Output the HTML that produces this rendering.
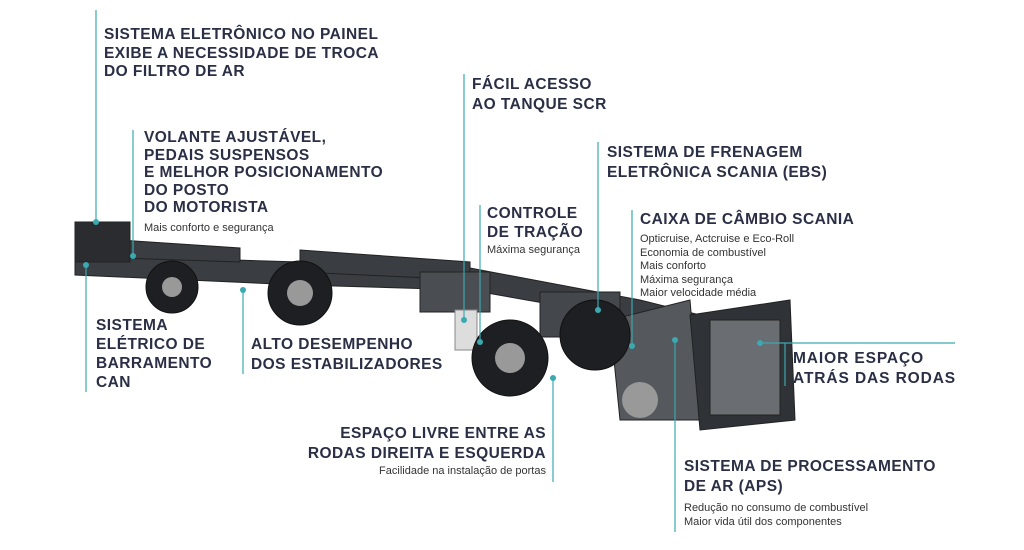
<!DOCTYPE html>
<html><head><meta charset="utf-8"><style>
body{margin:0;width:1024px;height:550px;background:#fff;position:relative;overflow:hidden;font-family:"Liberation Sans",sans-serif;color:#2a2f45}
.t{position:absolute;font-weight:bold;font-size:15.5px;line-height:18.5px;letter-spacing:0.45px;white-space:nowrap}
.s{position:absolute;font-size:11px;line-height:13.5px;white-space:nowrap;color:#333}
svg{position:absolute;left:0;top:0}
</style></head><body>
<svg width="1024" height="550">
<g fill="#3a3d42" stroke="#222" stroke-width="1">
<polygon points="75,255 300,262 470,268 640,300 760,330 760,345 640,320 470,290 300,285 75,275"/>
<polygon points="120,240 240,248 240,262 120,258"/>
<polygon points="300,250 470,262 470,280 300,272"/>
<rect x="75" y="222" width="55" height="40" fill="#2a2c30"/>
<rect x="420" y="272" width="70" height="40" fill="#4a4d52"/>
<rect x="540" y="292" width="80" height="45" fill="#44474c"/>
<polygon points="610,320 690,300 700,420 620,420" fill="#55585d"/>
<polygon points="690,315 790,300 795,420 700,430" fill="#2f3236"/>
<rect x="710" y="320" width="70" height="95" fill="#6a6d72"/>
<rect x="455" y="310" width="22" height="40" fill="#ddd" stroke="#888"/>
</g>
<g fill="#1e1f22" stroke="#111">
<circle cx="172" cy="287" r="26"/><circle cx="300" cy="293" r="32"/>
<circle cx="510" cy="358" r="38"/><circle cx="595" cy="335" r="35"/>
</g>
<g fill="#999"><circle cx="172" cy="287" r="10"/><circle cx="300" cy="293" r="13"/><circle cx="510" cy="358" r="15"/><circle cx="640" cy="400" r="18"/></g>
<g stroke="#3aa9b0" stroke-width="1.2" fill="none">
<line x1="96" y1="10" x2="96" y2="222"/>
<line x1="133" y1="130" x2="133" y2="256"/>
<line x1="464" y1="74" x2="464" y2="320"/>
<line x1="598" y1="142" x2="598" y2="310"/>
<line x1="480" y1="205" x2="480" y2="342"/>
<line x1="632" y1="210" x2="632" y2="346"/>
<line x1="86" y1="265" x2="86" y2="392"/>
<line x1="243" y1="290" x2="243" y2="374"/>
<line x1="760" y1="343" x2="955" y2="343"/>
<line x1="785" y1="343" x2="785" y2="386"/>
<line x1="553" y1="378" x2="553" y2="482"/>
<line x1="675" y1="340" x2="675" y2="532"/>
</g>
<g fill="#3aa9b0"><circle cx="96" cy="222" r="3"/><circle cx="133" cy="256" r="3"/><circle cx="464" cy="320" r="3"/><circle cx="598" cy="310" r="3"/><circle cx="480" cy="342" r="3"/><circle cx="632" cy="346" r="3"/><circle cx="86" cy="265" r="3"/><circle cx="243" cy="290" r="3"/><circle cx="760" cy="343" r="3"/><circle cx="553" cy="378" r="3"/><circle cx="675" cy="340" r="3"/></g>
</svg>
<div class="t" style="left:104px;top:26px">SISTEMA ELETRÔNICO NO PAINEL<br>EXIBE A NECESSIDADE DE TROCA<br>DO FILTRO DE AR</div>
<div class="t" style="left:144px;top:129px;line-height:17.5px">VOLANTE AJUSTÁVEL,<br>PEDAIS SUSPENSOS<br>E MELHOR POSICIONAMENTO<br>DO POSTO<br>DO MOTORISTA</div>
<div class="s" style="left:144px;top:222px">Mais conforto e segurança</div>
<div class="t" style="left:472px;top:75px;line-height:19.5px">FÁCIL ACESSO<br>AO TANQUE SCR</div>
<div class="t" style="left:607px;top:143px;line-height:19.5px">SISTEMA DE FRENAGEM<br>ELETRÔNICA SCANIA (EBS)</div>
<div class="t" style="left:487px;top:204px;line-height:19px">CONTROLE<br>DE TRAÇÃO</div>
<div class="s" style="left:487px;top:244px">Máxima segurança</div>
<div class="t" style="left:640px;top:211px">CAIXA DE CÂMBIO SCANIA</div>
<div class="s" style="left:640px;top:233px">Opticruise, Actcruise e Eco-Roll<br>Economia de combustível<br>Mais conforto<br>Máxima segurança<br>Maior velocidade média</div>
<div class="t" style="left:96px;top:316px;line-height:19px">SISTEMA<br>ELÉTRICO DE<br>BARRAMENTO<br>CAN</div>
<div class="t" style="left:251px;top:335px;line-height:20px">ALTO DESEMPENHO<br>DOS ESTABILIZADORES</div>
<div class="t" style="left:793px;top:349px;line-height:19.5px;letter-spacing:0.9px">MAIOR ESPAÇO<br>ATRÁS DAS RODAS</div>
<div class="t" style="right:478px;top:424px;line-height:20px;text-align:right">ESPAÇO LIVRE ENTRE AS<br>RODAS DIREITA E ESQUERDA</div>
<div class="s" style="right:478px;top:465px">Facilidade na instalação de portas</div>
<div class="t" style="left:684px;top:457px;line-height:20px">SISTEMA DE PROCESSAMENTO<br>DE AR (APS)</div>
<div class="s" style="left:684px;top:502px">Redução no consumo de combustível<br>Maior vida útil dos componentes</div>
</body></html>
